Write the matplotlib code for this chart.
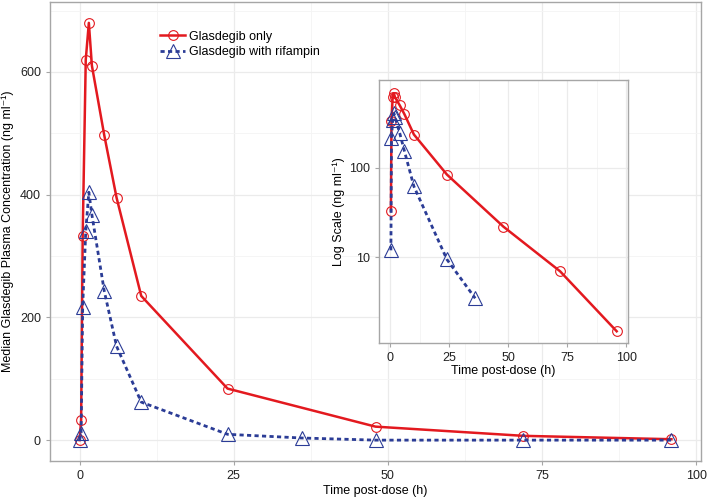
import matplotlib.pyplot as plt
import numpy as np

plt.rcParams['font.family'] = ['Liberation Sans', 'DejaVu Sans']

# Median plasma concentrations (ng/ml)
t_alone = [0, 0.25, 0.5, 1, 1.5, 2, 4, 6, 10, 24, 48, 72, 96]
c_alone = [0, 33, 332, 620, 680, 610, 497, 395, 235, 84, 22, 7, 1.5]

t_rif = [0, 0.25, 0.5, 1, 1.5, 2, 4, 6, 10, 24, 36, 48, 72, 96]
c_rif = [0, 12, 217, 340, 404, 367, 243, 153, 62, 9.5, 3.5, 0, 0, 0]

labels = ["Glasdegib only", "Glasdegib with rifampin"]
red = '#E3191F'
blue = '#2B3C96'
grid_major = '#EBEBEB'
grid_minor = '#F4F4F4'
frame = '#A6A6A6'


def style_axes(ax):
    ax.set_facecolor('white')
    for s in ax.spines.values():
        s.set_color(frame)
        s.set_linewidth(1.0)
    ax.grid(True, which='major', color=grid_major, linewidth=0.9)
    ax.grid(True, which='minor', color=grid_minor, linewidth=0.6)
    ax.set_axisbelow(True)
    ax.tick_params(which='major', length=3, color=frame, labelsize=9, labelcolor='#222222')
    ax.tick_params(which='minor', length=0)


def draw(ax, t1, c1, t2, c2):
    ax.plot(t1, c1, color=red, linewidth=1.8, marker='o', markersize=7,
            markerfacecolor='none', markeredgecolor=red, markeredgewidth=0.8, label=labels[0])
    ax.plot(t2, c2, color=blue, linewidth=2.0, linestyle=(0, (1.5, 1.2)), marker='^', markersize=9.5,
            markerfacecolor='none', markeredgecolor=blue, markeredgewidth=0.8, label=labels[1])


fig = plt.figure(figsize=(7.09, 4.98), dpi=100)

# main panel
ax = fig.add_axes([50 / 709, 37 / 498, 651 / 709, 459 / 498])
style_axes(ax)
draw(ax, t_alone, c_alone, t_rif, c_rif)
ax.set_xlim(-4.8, 100.8)
ax.set_ylim(-34, 714)
ax.set_xticks([0, 25, 50, 75, 100])
ax.set_xticks([12.5, 37.5, 62.5, 87.5], minor=True)
ax.set_yticks([0, 200, 400, 600])
ax.set_yticks([100, 300, 500, 700], minor=True)
ax.set_xlabel("Time post-dose (h)", fontsize=9, labelpad=2)
ax.set_ylabel("Median Glasdegib Plasma Concentration (ng ml\u207b\u00b9)", fontsize=9, labelpad=4)
ax.legend(loc='upper left', bbox_to_anchor=(0.152, 0.962), frameon=False, fontsize=9,
          handlelength=2.0, handletextpad=0.3, labelspacing=0.3)

# log-scale inset, zero values dropped
ta = np.array(t_alone); ca = np.array(c_alone)
tr = np.array(t_rif); cr = np.array(c_rif)
ins = fig.add_axes([379 / 709, 155 / 498, 249 / 709, 263 / 498])
style_axes(ins)
draw(ins, ta[ca > 0], ca[ca > 0], tr[cr > 0], cr[cr > 0])
ins.set_yscale('log')
ins.set_xlim(-4.8, 100.8)
ins.set_ylim(1.11, 953)
ins.set_xticks([0, 25, 50, 75, 100])
ins.set_xticks([12.5, 37.5, 62.5, 87.5], minor=True)
ins.set_yticks([10, 100])
ins.set_yticklabels(['10', '100'])
ins.yaxis.set_minor_locator(plt.FixedLocator([]))
ins.set_xlabel("Time post-dose (h)", fontsize=9, labelpad=1)
ins.set_ylabel("Log Scale (ng ml\u207b\u00b9)", fontsize=9, labelpad=3)

fig.savefig('out.png', dpi=100)
